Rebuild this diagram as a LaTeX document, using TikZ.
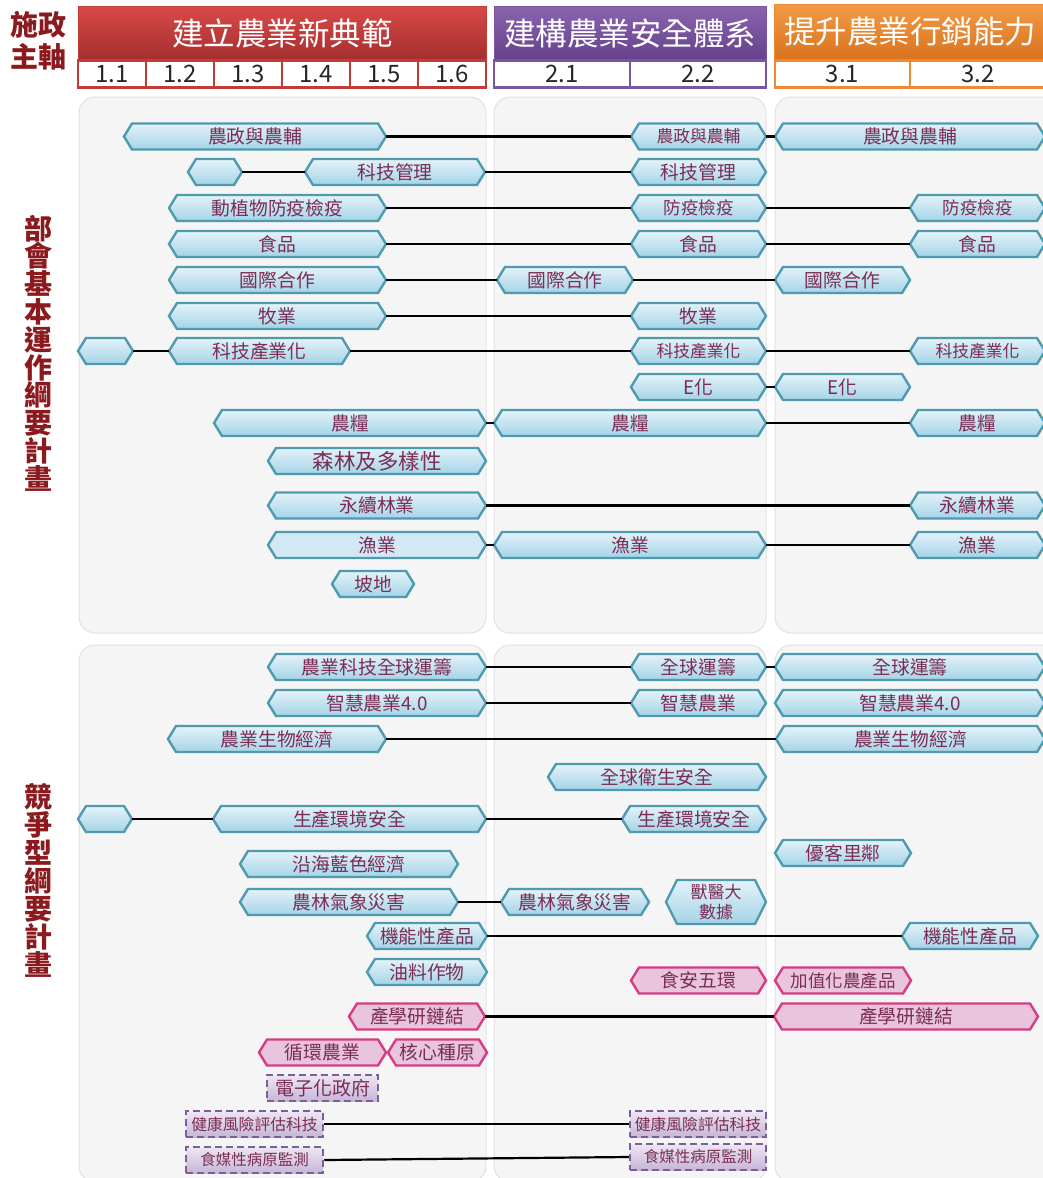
\documentclass[tikz,border=0pt]{standalone}
\usepackage{fontspec}
\setmainfont{Noto Sans CJK TC}
\definecolor{hexdraw}{HTML}{4E9AAF}
\definecolor{hextop}{HTML}{E4F2F9}
\definecolor{hexbot}{HTML}{A4D4E7}
\definecolor{hexflatfill}{HTML}{D2E9F5}
\definecolor{txt}{HTML}{7B2D55}
\definecolor{pinkdraw}{HTML}{D63C84}
\definecolor{pinkfill}{HTML}{E8C5DC}
\definecolor{dashdraw}{HTML}{7D5E9C}
\definecolor{dashtop}{HTML}{EDE6F3}
\definecolor{dashbot}{HTML}{C6B6D6}
\definecolor{panelfill}{HTML}{F5F5F5}
\definecolor{paneldraw}{HTML}{E2E2E2}
\definecolor{darkred}{HTML}{8B1A1E}
\definecolor{redtop}{HTML}{D84A48}
\definecolor{redbot}{HTML}{A52E2E}
\definecolor{reddraw}{HTML}{C23B3B}
\definecolor{purtop}{HTML}{8A64AE}
\definecolor{purbot}{HTML}{66428C}
\definecolor{purdraw}{HTML}{7A55A0}
\definecolor{ortop}{HTML}{F39A45}
\definecolor{orbot}{HTML}{D9731F}
\definecolor{ordraw}{HTML}{EE8A35}
\newcommand{\fs}[1]{\fontsize{#1}{#1}\selectfont}
\newcommand{\hexd}{8}
\newcommand{\hexn}[7][26]{%
  \node[hexbox, minimum width={(#4)-(#3)}, minimum height=#1] (#2) at ({((#3)+(#4))/2},#5) {};
  \draw[#6] ([xshift=\hexd]#2.north west) -- ([xshift=-\hexd]#2.north east) -- (#2.east)
     -- ([xshift=-\hexd]#2.south east) -- ([xshift=\hexd]#2.south west) -- (#2.west) -- cycle;
  \node[hextext] (#2-t) at (#2) {#7};}
\tikzset{
  hexbox/.style={rectangle, inner sep=0pt, outer sep=0pt, draw=none},
  hexblue/.style={draw=hexdraw, line width=2.4pt, top color=hextop, bottom color=hexbot},
  hexflat/.style={draw=hexdraw, line width=2.4pt, fill=hexflatfill},
  hexpink/.style={draw=pinkdraw, line width=2.4pt, fill=pinkfill},
  hextext/.style={inner sep=0pt, text=txt, font=\fs{18.8}},
  dashbox/.style={rectangle, draw=dashdraw, dash pattern=on 7pt off 4pt, line width=2.5pt,
     top color=dashtop, bottom color=dashbot, text=txt, inner sep=0pt, minimum height=26pt},
  conn/.style={line width=2.2pt, black},
  panel/.style={fill=panelfill, draw=paneldraw, line width=1pt, rounded corners=16pt},
  hdr/.style={rectangle, inner sep=0pt, text=white, font=\fs{31.5}, line width=1pt, minimum height=54pt},
  cell/.style={rectangle, fill=white, line width=2.5pt, minimum height=27pt, inner sep=0pt, font=\fs{24}, text=black!85},
  lbl/.style={align=center, text=darkred, inner sep=0pt}
}
\begin{document}
\begin{tikzpicture}[x=1pt,y=-1pt]
\useasboundingbox (0,0) rectangle (1043,1178);
% panels
\draw[panel] (79,97) rectangle (486,633);
\draw[panel] (494,97) rectangle (766,633);
\draw[panel] (775,97) rectangle (1070,633);
\draw[panel] (79,645) rectangle (486,1182);
\draw[panel] (494,645) rectangle (766,1182);
\draw[panel] (775,645) rectangle (1070,1182);
% header
\node[lbl, font=\bfseries\fontsize{28}{32}\selectfont] (lab0) at (38,41) {施政\\主軸};
\node[hdr, top color=redtop, bottom color=redbot, draw=reddraw, minimum width=408pt] (hRed) at (282.5,33) {建立農業新典範};
\node[hdr, top color=purtop, bottom color=purbot, draw=purdraw, minimum width=272pt] (hPur) at (630,33) {建構農業安全體系};
\node[hdr, top color=ortop, bottom color=orbot, draw=ordraw, minimum width=272pt, minimum height=55pt] (hOr) at (910,32) {提升農業行銷能力};
\node[cell, draw=reddraw, minimum width=68pt] (c11) at (112,74) {1.1};
\node[cell, draw=reddraw, minimum width=68pt] (c12) at (180,74) {1.2};
\node[cell, draw=reddraw, minimum width=68pt] (c13) at (248,74) {1.3};
\node[cell, draw=reddraw, minimum width=68pt] (c14) at (316,74) {1.4};
\node[cell, draw=reddraw, minimum width=68pt] (c15) at (384,74) {1.5};
\node[cell, draw=reddraw, minimum width=68pt] (c16) at (452,74) {1.6};
\node[cell, draw=purdraw, minimum width=136pt] (c21) at (562,74) {2.1};
\node[cell, draw=purdraw, minimum width=136pt] (c22) at (698,74) {2.2};
\node[cell, draw=ordraw, minimum width=135pt] (c31) at (842.5,74) {3.1};
\node[cell, draw=ordraw, minimum width=136pt] (c32) at (978,74) {3.2};
% side labels
\node[lbl, font=\bfseries\fontsize{28}{27.8}\selectfont] (lab1) at (38,353) {部\\會\\基\\本\\運\\作\\綱\\要\\計\\畫};
\node[lbl, font=\bfseries\fontsize{28}{28}\selectfont] (lab2) at (38,880) {競\\爭\\型\\綱\\要\\計\\畫};
% upper nodes
\hexn{A1}{124}{386}{136.5}{hexblue}{農政與農輔}
\hexn{A2}{631}{766}{136.5}{hexblue}{\fs{16.8}農政與農輔}
\hexn{A3}{775}{1045}{136.5}{hexblue}{農政與農輔}
\hexn{B0}{188}{242}{172}{hexblue}{}
\hexn{B1}{305}{485}{172}{hexblue}{科技管理}
\hexn{B2}{631}{766}{172}{hexblue}{科技管理}
\hexn{C1}{169}{386}{208}{hexblue}{動植物防疫檢疫}
\hexn{C2}{631}{766}{208}{hexblue}{\fs{17.5}防疫檢疫}
\hexn{C3}{910}{1045}{208}{hexblue}{\fs{17.5}防疫檢疫}
\hexn{D1}{169}{386}{244}{hexblue}{食品}
\hexn{D2}{631}{766}{244}{hexblue}{食品}
\hexn{D3}{910}{1045}{244}{hexblue}{食品}
\hexn{E1}{169}{386}{280}{hexblue}{國際合作}
\hexn{E2}{497}{633}{280}{hexblue}{國際合作}
\hexn{E3}{775}{910}{280}{hexblue}{國際合作}
\hexn{F1}{169}{386}{316}{hexblue}{牧業}
\hexn{F2}{631}{766}{316}{hexblue}{牧業}
\hexn{G0}{78}{133}{351}{hexblue}{}
\hexn{G1}{169}{350}{351}{hexblue}{科技產業化}
\hexn{G2}{631}{766}{351}{hexblue}{\fs{16.8}科技產業化}
\hexn{G3}{910}{1045}{351}{hexblue}{\fs{16.8}科技產業化}
\hexn{H2}{631}{766}{387}{hexblue}{E化}
\hexn{H3}{775}{910}{387}{hexblue}{E化}
\hexn{I1}{214}{486}{423}{hexblue}{農糧}
\hexn{I2}{494}{766}{423}{hexblue}{農糧}
\hexn{I3}{910}{1045}{423}{hexblue}{農糧}
\hexn{J1}{268}{486}{461}{hexblue}{\fs{21.5}森林及多樣性}
\hexn{K1}{268}{486}{505.5}{hexblue}{永續林業}
\hexn{K3}{910}{1045}{505.5}{hexblue}{永續林業}
\hexn{L1}{268}{486}{545}{hexflat}{漁業}
\hexn{L2}{494}{766}{545}{hexblue}{漁業}
\hexn{L3}{910}{1045}{545}{hexblue}{漁業}
\hexn{M1}{332}{414}{584}{hexblue}{坡地}
% lower nodes
\hexn{N1}{268}{486}{667}{hexblue}{農業科技全球運籌}
\hexn{N2}{631}{766}{667}{hexblue}{全球運籌}
\hexn{N3}{775}{1045}{667}{hexblue}{全球運籌}
\hexn{O1}{268}{486}{703}{hexblue}{智慧農業4.0}
\hexn{O2}{631}{766}{703}{hexblue}{智慧農業}
\hexn{O3}{775}{1045}{703}{hexblue}{智慧農業4.0}
\hexn{P1}{168}{386}{739}{hexblue}{農業生物經濟}
\hexn{P3}{776}{1045}{739}{hexblue}{農業生物經濟}
\hexn{Q2}{548}{766}{777}{hexblue}{全球衛生安全}
\hexn{R0}{78}{132}{819}{hexblue}{}
\hexn{R1}{213}{486}{819}{hexblue}{生產環境安全}
\hexn{R2}{622}{766}{819}{hexblue}{生產環境安全}
\hexn{S1}{240}{458}{864}{hexblue}{沿海藍色經濟}
\hexn{S3}{775}{911}{853}{hexblue}{優客里鄰}
\hexn{T1}{240}{458}{902}{hexblue}{農林氣象災害}
\hexn{T2}{501}{649}{902}{hexblue}{農林氣象災害}
\renewcommand{\hexd}{11}
\hexn[44]{T4}{666}{766}{902}{hexblue}{}
\node[hextext, align=center, font=\fontsize{17}{20}\selectfont] (T4-x) at (T4) {獸醫大\\數據};
\renewcommand{\hexd}{8}
\hexn{U1}{367}{487}{936}{hexblue}{機能性產品}
\hexn{U3}{902}{1038}{936}{hexblue}{機能性產品}
\hexn{V1}{367}{487}{972}{hexblue}{油料作物}
\hexn{W2}{631}{766}{980.5}{hexpink}{食安五環}
\hexn{W3}{775}{911}{980.5}{hexpink}{\fs{17.5}加值化農產品}
\hexn{X1}{349}{485}{1016.5}{hexpink}{產學研鏈結}
\hexn{X3}{774}{1038}{1016.5}{hexpink}{產學研鏈結}
\hexn{Y1}{259}{386}{1052.5}{hexpink}{循環農業}
\hexn{Y2}{388}{487}{1052.5}{hexpink}{核心種原}
\node[dashbox, minimum width=111pt] (Z1) at (322.5,1088) {\fs{19}電子化政府};
\node[dashbox, minimum width=137pt] (AA1) at (254.5,1124) {\fs{15.8}健康風險評估科技};
\node[dashbox, minimum width=136pt] (AA2) at (698,1124) {\fs{15.8}健康風險評估科技};
\node[dashbox, minimum width=137pt] (AB1) at (254.5,1160) {\fs{15.5}食媒性病原監測};
\node[dashbox, minimum width=136pt] (AB2) at (698,1157) {\fs{15.5}食媒性病原監測};
% connectors
\draw[conn] (A1.east) -- (A2.west);
\draw[conn] (A2.east) -- (A3.west);
\draw[conn] (B0.east) -- (B1.west);
\draw[conn] (B1.east) -- (B2.west);
\draw[conn] (C1.east) -- (C2.west);
\draw[conn] (C2.east) -- (C3.west);
\draw[conn] (D1.east) -- (D2.west);
\draw[conn] (D2.east) -- (D3.west);
\draw[conn] (E1.east) -- (E2.west);
\draw[conn] (E2.east) -- (E3.west);
\draw[conn] (F1.east) -- (F2.west);
\draw[conn] (G0.east) -- (G1.west);
\draw[conn] (G1.east) -- (G2.west);
\draw[conn] (G2.east) -- (G3.west);
\draw[conn] (H2.east) -- (H3.west);
\draw[conn] (I1.east) -- (I2.west);
\draw[conn] (I2.east) -- (I3.west);
\draw[conn] (K1.east) -- (K3.west);
\draw[conn] (L1.east) -- (L2.west);
\draw[conn] (L2.east) -- (L3.west);
\draw[conn] (N1.east) -- (N2.west);
\draw[conn] (N2.east) -- (N3.west);
\draw[conn] (O1.east) -- (O2.west);
\draw[conn] (P1.east) -- (P3.west);
\draw[conn] (R0.east) -- (R1.west);
\draw[conn] (R1.east) -- (R2.west);
\draw[conn] (T1.east) -- (T2.west);
\draw[conn] (U1.east) -- (U3.west);
\draw[conn] (X1.east) -- (X3.west);
\draw[conn] (AA1.east) -- (AA2.west);
\draw[conn] (AB1.east) -- (AB2.west);
\end{tikzpicture}
\end{document}
